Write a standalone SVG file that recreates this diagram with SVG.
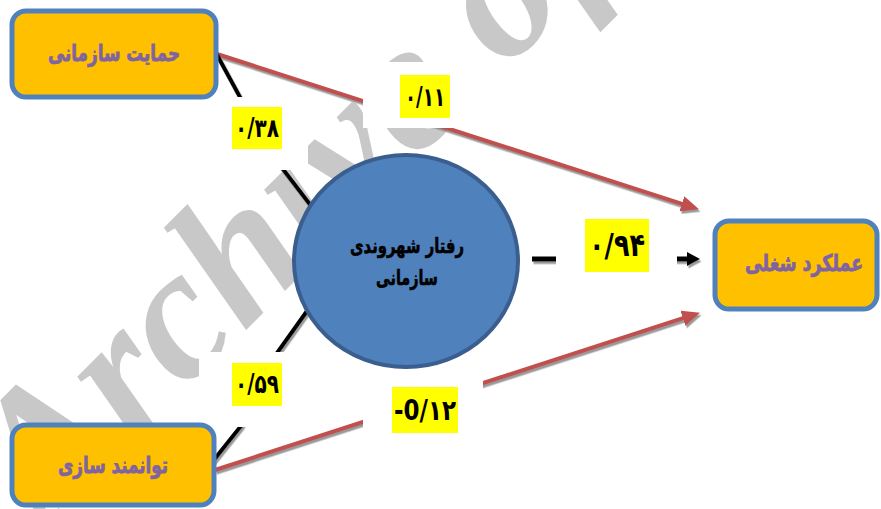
<svg xmlns="http://www.w3.org/2000/svg" width="881" height="509" viewBox="0 0 881 509">
<defs>
<style>
.wm{font-family:"Liberation Serif",serif;font-weight:bold;font-style:italic;fill:#C8C8C8;}
.box rect{fill:#FFC000;stroke:#4F81BD;stroke-width:5;}
.box text{font-family:"DejaVu Sans",sans-serif;font-weight:bold;fill:#8064A2;stroke:#8064A2;stroke-width:0.8;text-anchor:middle;dominant-baseline:central;}
.circ text{font-family:"DejaVu Sans",sans-serif;font-weight:bold;fill:#000;stroke:#000;stroke-width:0.6;text-anchor:middle;dominant-baseline:central;}
.red{stroke:#C0504D;stroke-width:4;fill:none;}
.blk{stroke:#000;stroke-width:4;fill:none;}
.mask{fill:#fff;}
.yl{fill:#FFFF00;}
.num{font-family:"DejaVu Sans",sans-serif;font-weight:bold;fill:#000;text-anchor:middle;dominant-baseline:central;}
</style>
<marker id="ar" markerUnits="userSpaceOnUse" markerWidth="20" markerHeight="16" refX="1" refY="8" orient="auto">
<path d="M0,0 L18,8 L0,16 z" fill="#C0504D"/>
</marker>
<marker id="ab" markerUnits="userSpaceOnUse" markerWidth="16" markerHeight="16" refX="1" refY="8" orient="auto">
<path d="M0,1 L13,8 L0,15 z" fill="#000"/>
</marker>
<filter id="sh" x="-10%" y="-10%" width="120%" height="130%">
<feDropShadow dx="1.5" dy="2.5" stdDeviation="0.6" flood-color="#808080" flood-opacity="0.8"/>
</filter>
</defs>
<rect width="881" height="509" fill="#fff"/>
<text class="wm" font-size="188" transform="translate(44,532) rotate(-45)">Archive of SID</text>
<g id="connectors" filter="url(#sh)">
<path class="red" d="M217,54 L682.8,204.1" marker-end="url(#ar)"/>
<path class="red" d="M215,470 L683.8,317.9" marker-end="url(#ar)"/>
<path class="blk" d="M216,53 L241,99 L282,168 L318,215"/>
<path class="blk" d="M213,461 L241,426 L277,353 L312,304"/>
<path class="blk" d="M532,259 L688,259" marker-end="url(#ab)" style="stroke-width:5"/>
</g>
<g id="labels">
<rect class="mask" x="222" y="97" width="86" height="73"/>
<rect class="yl" x="232" y="107" width="50" height="42"/>
<text class="num" x="257" y="128" font-size="26" textLength="44" lengthAdjust="spacingAndGlyphs">۰/۳۸</text>
<rect class="mask" x="363" y="62" width="177" height="66"/>
<rect class="yl" x="400" y="75" width="50" height="43"/>
<text class="num" x="425" y="97" font-size="26" textLength="40" lengthAdjust="spacingAndGlyphs">۰/۱۱</text>
<rect class="mask" x="556" y="210" width="121" height="90"/>
<rect class="yl" x="585" y="219" width="64" height="53"/>
<text class="num" x="617" y="245" font-size="32" textLength="56" lengthAdjust="spacingAndGlyphs">۰/۹۴</text>
<rect class="mask" x="199" y="352" width="101" height="75"/>
<rect class="yl" x="232" y="363" width="50" height="43"/>
<text class="num" x="257" y="384" font-size="26" textLength="44" lengthAdjust="spacingAndGlyphs">۰/۵۹</text>
<rect class="mask" x="363" y="376" width="120" height="69"/>
<rect class="yl" x="392" y="387" width="66" height="46"/>
<text class="num" x="425" y="410" font-size="28" textLength="62" lengthAdjust="spacingAndGlyphs" font-family="Liberation Serif, DejaVu Sans, serif">-0/۱۲</text>
</g>
<g id="node-hemayat" class="box">
<rect x="12" y="11" width="204" height="86" rx="14"/>
<text x="114" y="53" font-size="23" textLength="132" lengthAdjust="spacingAndGlyphs">حمایت سازمانی</text>
</g>
<g id="node-tavanmand" class="box">
<rect x="12" y="425" width="202" height="80" rx="14"/>
<text x="113" y="465" font-size="23" textLength="110" lengthAdjust="spacingAndGlyphs">توانمند سازی</text>
</g>
<g id="node-amalkard" class="box">
<rect x="715" y="221" width="162" height="88" rx="14"/>
<text x="804" y="263" font-size="23" textLength="118" lengthAdjust="spacingAndGlyphs">عملکرد شغلی</text>
</g>
<g id="node-raftar" class="circ">
<ellipse cx="406" cy="261" rx="112" ry="106" fill="#4F81BD" stroke="#3A5F8F" stroke-width="4"/>
<text x="407" y="246" font-size="21" textLength="114" lengthAdjust="spacingAndGlyphs">رفتار شهروندی</text>
<text x="407" y="278" font-size="21" textLength="62" lengthAdjust="spacingAndGlyphs">سازمانی</text>
</g>
</svg>
